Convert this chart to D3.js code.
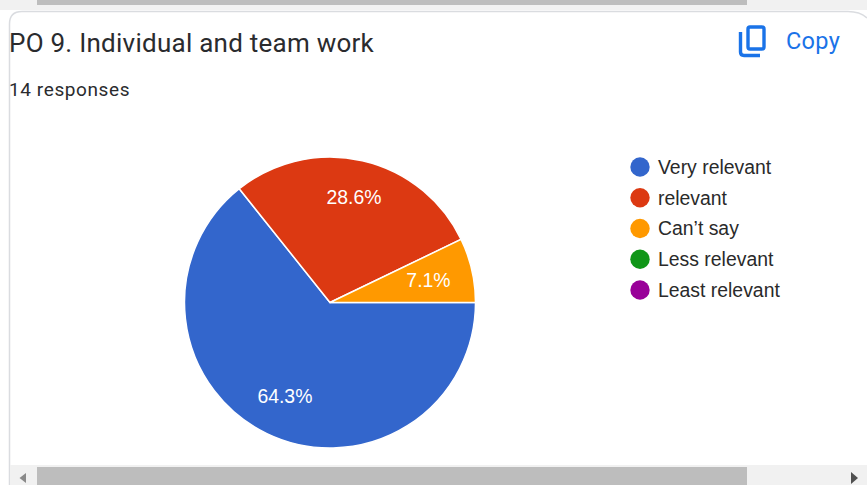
<!DOCTYPE html>
<html>
<head>
<meta charset="utf-8">
<script src="https://cdnjs.cloudflare.com/ajax/libs/d3/7.8.5/d3.min.js"></script>
<style>
html, body { margin: 0; padding: 0; background: #fff; }
svg { display: block; }
</style>
</head>
<body>
<div id="chart"></div>
<script>
// response counts, 14 in total
var categories = ["Very relevant", "relevant", "Can\u2019t say", "Less relevant", "Least relevant"];
var counts = [9, 4, 1, 0, 0];
var sliceColors = ["#3366cc", "#dc3912", "#ff9900", "#109618", "#990099"];
var chartTitle = "PO 9. Individual and team work";
var subTitle = "14 responses";

var svgWidth = 867;
var svgHeight = 485;
var font = "Roboto, sans-serif";
var labelFont = "Arimo, 'Liberation Sans', Arial, sans-serif";

var svg = d3.select("#chart").append("svg")
    .attr("width", svgWidth)
    .attr("height", svgHeight);

// strip of the previous card + its scrollbar at the very top
svg.append("rect").attr("width", svgWidth).attr("height", 10).attr("fill", "#f1f1f1");
svg.append("rect").attr("x", 37).attr("y", 0).attr("width", 710).attr("height", 5).attr("fill", "#bdbdbd");

// card outline
svg.append("path")
    .attr("d", "M9.5,485 V24 Q9.5,11.5 22,11.5 H848 Q860,11.5 867,18")
    .attr("fill", "#fff")
    .attr("stroke", "#dadce0")
    .attr("stroke-width", 1.5);

svg.append("text")
    .attr("x", 9).attr("y", 52)
    .attr("font-family", font).attr("font-size", 26)
    .attr("letter-spacing", 0.25)
    .attr("fill", "#2a2b2e")
    .text(chartTitle);

svg.append("text")
    .attr("x", 9).attr("y", 96)
    .attr("font-family", font).attr("font-size", 19)
    .attr("letter-spacing", 0.6)
    .attr("fill", "#2a2b2e")
    .text(subTitle);

// copy icon
var icon = svg.append("g").attr("fill", "none").attr("stroke", "#1a73e8").attr("stroke-width", 3.4);
icon.append("rect").attr("x", 748).attr("y", 27).attr("width", 16).attr("height", 22).attr("rx", 2);
icon.append("path").attr("d", "M740.5,32 V52 Q740.5,55.5 744,55.5 H760");

svg.append("text")
    .attr("x", 786).attr("y", 49)
    .attr("font-family", font).attr("font-size", 23.5)
    .attr("letter-spacing", 0.3)
    .attr("fill", "#1a73e8")
    .text("Copy");

// pie
var cx = 330, cy = 302.5, radius = 145.5;
var color = d3.scaleOrdinal().domain(categories).range(sliceColors);
var total = d3.sum(counts);

var pie = d3.pie()
    .sort(null)
    .startAngle(Math.PI / 2)
    .endAngle(Math.PI / 2 + 2 * Math.PI)
    .value(function(d) { return d.count; });

var arc = d3.arc().innerRadius(0).outerRadius(radius);

// distance of each percent label from the centre
var labelRadius = [104, 108, 101];

var rows = categories.map(function(c, i) { return { name: c, count: counts[i] }; });
var arcs = pie(rows).filter(function(d) { return d.data.count > 0; });

var pieGroup = svg.append("g").attr("transform", `translate(${cx}, ${cy})`);

pieGroup.selectAll("path").data(arcs).enter().append("path")
    .attr("d", arc)
    .attr("fill", function(d) { return color(d.data.name); })
    .attr("stroke", "#fff")
    .attr("stroke-width", 1.5);

pieGroup.selectAll("text").data(arcs).enter().append("text")
    .attr("transform", function(d, i) {
        var pos = d3.arc().innerRadius(labelRadius[i]).outerRadius(labelRadius[i]).centroid(d);
        return `translate(${pos})`;
    })
    .attr("text-anchor", "middle")
    .attr("dy", "0.36em")
    .attr("font-family", labelFont)
    .attr("font-size", 19.4)
    .attr("fill", "#fff")
    .text(function(d) { return d3.format(".1f")(d.data.count / total * 100) + "%"; });

// legend
var legendY = d3.scalePoint().domain(categories).range([167, 290]);

var legend = svg.selectAll(".legend").data(categories).enter().append("g")
    .attr("class", "legend")
    .attr("transform", function(d) { return `translate(640, ${legendY(d)})`; });

legend.append("circle").attr("r", 9.7).attr("fill", function(d) { return color(d); });

legend.append("text")
    .attr("x", 18).attr("dy", "0.36em")
    .attr("font-family", labelFont)
    .attr("font-size", 19.4)
    .attr("fill", "#2a2a2a")
    .text(function(d) { return d; });

// bottom scrollbar
svg.append("rect").attr("x", 10).attr("y", 465).attr("width", 857).attr("height", 20).attr("fill", "#f1f1f1");
svg.append("rect").attr("x", 37).attr("y", 467).attr("width", 710).attr("height", 18).attr("fill", "#bdbdbd");
svg.append("path").attr("d", "M26,473 L19.5,478 L26,483 Z").attr("fill", "#8a8a8a");
svg.append("path").attr("d", "M851,472 L858,478 L851,484 Z").attr("fill", "#505050");
</script>
</body>
</html>
